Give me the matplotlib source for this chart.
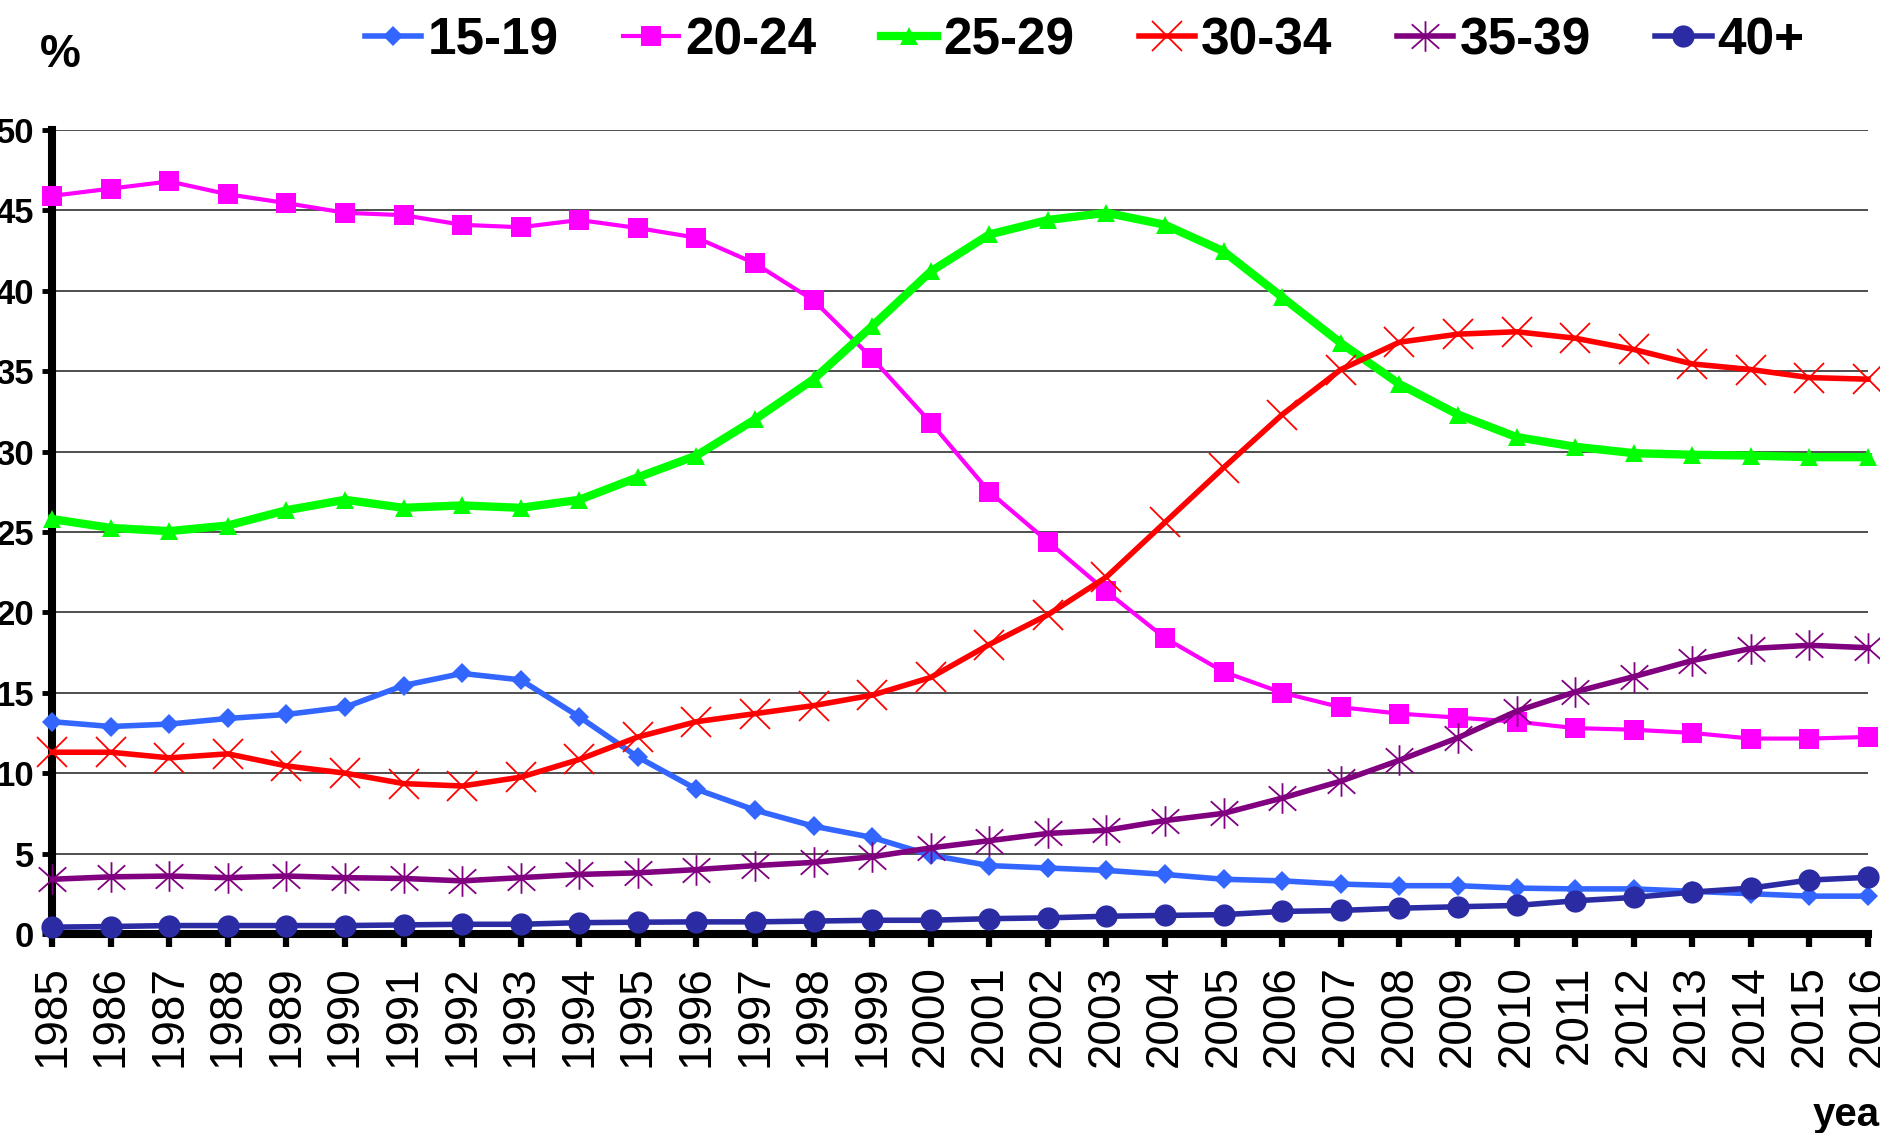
import matplotlib
matplotlib.use("Agg")
import matplotlib.pyplot as plt
from matplotlib.path import Path

plt.rcParams['font.family'] = ['Liberation Sans', 'DejaVu Sans']

years = list(range(1985, 2017))
labels = ["15-19", "20-24", "25-29", "30-34", "35-39", "40+"]

a15_19 = [13.2, 12.9, 13.05, 13.4, 13.65, 14.1, 15.45, 16.2, 15.8, 13.5, 11.0, 9.0,
          7.7, 6.7, 6.0, 4.9, 4.25, 4.1, 3.95, 3.7, 3.4, 3.3, 3.1, 3.0, 3.0, 2.85,
          2.8, 2.8, 2.65, 2.5, 2.35, 2.35]
a20_24 = [45.9, 46.35, 46.8, 46.0, 45.45, 44.85, 44.7, 44.1, 43.95, 44.4, 43.9, 43.3,
          41.7, 39.4, 35.8, 31.8, 27.5, 24.4, 21.3, 18.4, 16.3, 15.0, 14.1, 13.7,
          13.45, 13.2, 12.8, 12.7, 12.5, 12.15, 12.15, 12.25]
a25_29 = [25.8, 25.25, 25.05, 25.4, 26.35, 27.0, 26.5, 26.65, 26.5, 27.0, 28.4, 29.75,
          32.0, 34.5, 37.8, 41.2, 43.5, 44.4, 44.85, 44.1, 42.45, 39.6, 36.75, 34.2,
          32.3, 30.9, 30.3, 29.9, 29.8, 29.75, 29.65, 29.65]
a30_34 = [11.3, 11.3, 10.95, 11.2, 10.45, 10.0, 9.35, 9.2, 9.75, 10.85, 12.25, 13.2,
          13.7, 14.2, 14.85, 15.95, 18.0, 19.85, 22.2, 25.6, 29.0, 32.3, 35.1, 36.8,
          37.3, 37.45, 37.05, 36.35, 35.45, 35.1, 34.6, 34.5]
a35_39 = [3.4, 3.55, 3.6, 3.5, 3.6, 3.5, 3.45, 3.3, 3.5, 3.7, 3.8, 4.0, 4.25, 4.45,
          4.8, 5.35, 5.8, 6.25, 6.45, 7.05, 7.5, 8.45, 9.5, 10.8, 12.2, 13.85, 15.05,
          16.0, 17.0, 17.75, 17.95, 17.8]
a40p = [0.42, 0.46, 0.52, 0.52, 0.52, 0.52, 0.56, 0.6, 0.6, 0.7, 0.73, 0.75, 0.75,
        0.8, 0.85, 0.85, 0.95, 1.0, 1.1, 1.15, 1.2, 1.4, 1.46, 1.6, 1.69, 1.77, 2.06,
        2.27, 2.6, 2.85, 3.35, 3.52]
series = [a15_19, a20_24, a25_29, a30_34, a35_39, a40p]
yticks = list(range(0, 51, 5))

star = Path([(-0.9, -0.8), (0.9, 0.8), (-0.9, 0.8), (0.9, -0.8), (0, -1.0), (0, 1.0)],
            [Path.MOVETO, Path.LINETO, Path.MOVETO, Path.LINETO, Path.MOVETO, Path.LINETO])

styles = [
    dict(color='#3366FF', marker='D', ms=10, lw=4.0, mew=0),
    dict(color='#FF00FF', marker='s', ms=14, lw=3.0, mew=0),
    dict(color='#00FF00', marker='^', ms=13, lw=6.0, mew=0),
    dict(color='#FF0000', marker='x', ms=21, lw=4.0, mew=1.3),
    dict(color='#800080', marker=star, ms=22, lw=4.0, mew=1.3),
    dict(color='#2B2BA3', marker='o', ms=16, lw=4.0, mew=0),
]

fig = plt.figure(figsize=(18.8, 11.33), dpi=100)
ax = fig.add_axes([0.0277, 0.1757, 0.9936 - 0.0277, 0.8853 - 0.1757])

for i, (vals, lab, st) in enumerate(zip(series, labels, styles)):
    ax.plot(years, vals, label=lab, color=st['color'], marker=st['marker'],
            markersize=st['ms'], linewidth=st['lw'], markeredgewidth=st['mew'],
            markeredgecolor=st['color'], markerfacecolor=st['color'],
            clip_on=False, zorder=3 + i)

ax.set_xlim(1985, 2016)
ax.set_ylim(0, 50)
ax.set_xticks(years)
ax.set_xticklabels([str(y) for y in years], rotation=90, fontsize=33)
ax.set_yticks(yticks)
ax.set_yticklabels([str(v) for v in yticks], fontsize=25, fontweight='bold')

ax.yaxis.grid(True, color='#404040', linewidth=1.3)
ax.set_axisbelow(True)

for s in ['top', 'right']:
    ax.spines[s].set_visible(False)
for s in ['left', 'bottom']:
    ax.spines[s].set_linewidth(5.8)
    ax.spines[s].set_color('black')
    ax.spines[s].set_capstyle('projecting')

ax.tick_params(axis='x', direction='out', length=9.5, width=4.5, pad=13)
ax.tick_params(axis='y', direction='out', length=7, width=3.5, pad=6)

fig.text(60 / 1880, 1 - 55 / 1133, '%', fontsize=33, fontweight='bold',
         ha='center', va='center')
fig.text(1813 / 1880, 1 - 1126 / 1133, 'year', fontsize=29, fontweight='bold',
         ha='left', va='baseline')

fig.legend(loc='center', bbox_to_anchor=(0.577, 0.964), ncol=6, frameon=False,
           prop={'size': 37, 'weight': 'bold'}, handlelength=1.1,
           handletextpad=0.12, columnspacing=1.25, numpoints=1,
           borderaxespad=0, borderpad=0)

fig.savefig('out.png', dpi=100)
